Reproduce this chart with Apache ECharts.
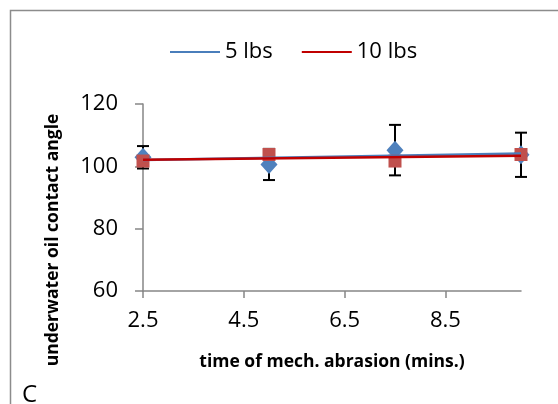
<!DOCTYPE html>
<html>
<head>
<meta charset="utf-8">
<script src="https://cdn.jsdelivr.net/npm/echarts@6/dist/echarts.min.js"></script>
<style>
html,body{margin:0;padding:0;background:#fff;}
#chart{width:558px;height:404px;}
</style>
</head>
<body>
<div id="chart"></div>
<script>
// abrasion time (mins.)
var times = [2.5, 5, 7.5, 10];
// contact angle, 5 lbs / 10 lbs
var angle5 = [102.9, 100.6, 105.2, 103.7];
var angle10 = [101.7, 103.8, 101.7, 103.8];
// error (+/-) on the 5 lbs points
var err5 = [3.6, 5.0, 8.1, 7.1];
var xTicks = [2.5, 4.5, 6.5, 8.5];

var fontName = 'Open Sans';

// linear trendline, like excel does
function trend(xs, ys){
	var n = xs.length, mx = 0, my = 0, sxy = 0, sxx = 0;
	for(var i=0;i<n;i++){ mx += xs[i]/n; my += ys[i]/n; }
	for(var i=0;i<n;i++){
		sxy += (xs[i]-mx)*(ys[i]-my);
		sxx += (xs[i]-mx)*(xs[i]-mx);
	}
	var k = sxy/sxx, b = my - k*mx;
	return [[xs[0], k*xs[0]+b], [xs[n-1], k*xs[n-1]+b]];
}

function pairs(xs, ys){
	var out = [];
	for(var i=0;i<xs.length;i++) out.push([xs[i], ys[i]]);
	return out;
}

var errData = [];
for(var i=0;i<times.length;i++){
	errData.push([times[i], angle5[i]-err5[i], angle5[i]+err5[i]]);
}

var eChart = echarts.init(document.getElementById('chart'));

var option = {
	animation: false,
	textStyle: {fontFamily: fontName},
	graphic: [
		{type:'rect', shape:{x:10.5, y:10.5, width:600, height:500},
			style:{fill:'none', stroke:'#8c8c8c', lineWidth:1.5}},
		{type:'text', left:22, top:383,
			style:{text:'C', font:'24px "Open Sans"', fill:'#000'}},
		// y title sits lower than the plot centre, as in the original
		{type:'text', x:53, y:240, rotation:Math.PI/2,
			style:{text:'underwater oil contact angle', font:'bold 17.5px "Open Sans"',
				fill:'#000', align:'center', verticalAlign:'middle'}}
	],
	legend: {
		left: 165,
		top: 36,
		icon: 'rect',
		itemWidth: 50,
		itemHeight: 2,
		itemGap: 29,
		data: ['5 lbs', '10 lbs'],
		textStyle: {fontSize: 22, color: '#000', fontFamily: fontName}
	},
	grid: {left:143, top:104, width:378, height:187},
	xAxis: {
		type: 'value',
		min: 2.5,
		max: 10,
		name: 'time of mech. abrasion (mins.)',
		nameLocation: 'middle',
		nameGap: 62,
		nameTextStyle: {fontSize: 17.5, fontWeight: 'bold', color: '#000'},
		axisLine: {lineStyle: {color: '#868686', width: 1.5}},
		axisTick: {show: true, length: 7, customValues: xTicks, lineStyle: {color: '#868686', width: 1.5}},
		axisLabel: {customValues: xTicks, fontSize: 22, color: '#000', margin: 19},
		splitLine: {show: false}
	},
	yAxis: {
		type: 'value',
		min: 60,
		max: 120,
		interval: 20,
		axisLine: {show: true, lineStyle: {color: '#868686', width: 1.5}},
		axisTick: {show: true, length: 8, lineStyle: {color: '#868686', width: 1.5}},
		axisLabel: {fontSize: 22, color: '#000', margin: 25},
		splitLine: {show: false}
	},
	series: [
		{
			type: 'custom',
			name: 'err',
			z: 1,
			data: errData,
			renderItem: function(params, api){
				var x = api.value(0);
				var lo = api.coord([x, api.value(1)]);
				var hi = api.coord([x, api.value(2)]);
				var w = 6;
				var st = {stroke:'#000', lineWidth:2};
				return {type:'group', children:[
					{type:'line', shape:{x1:lo[0], y1:lo[1], x2:hi[0], y2:hi[1]}, style:st},
					{type:'line', shape:{x1:lo[0]-w, y1:lo[1], x2:lo[0]+w, y2:lo[1]}, style:st},
					{type:'line', shape:{x1:hi[0]-w, y1:hi[1], x2:hi[0]+w, y2:hi[1]}, style:st}
				]};
			}
		},
		{
			type: 'scatter',
			name: '5 lbs pts',
			z: 2,
			symbol: 'diamond',
			symbolSize: [17, 19],
			itemStyle: {color: '#4f81bd', opacity: 1},
			data: pairs(times, angle5)
		},
		{
			type: 'scatter',
			name: '10 lbs pts',
			z: 3,
			symbol: 'rect',
			symbolSize: 13,
			itemStyle: {color: '#c0504d', opacity: 1},
			data: pairs(times, angle10)
		},
		{
			type: 'line',
			name: '5 lbs',
			z: 4,
			symbol: 'none',
			lineStyle: {color: '#4a7ebb', width: 2.5},
			itemStyle: {color: '#4a7ebb'},
			data: trend(times, angle5)
		},
		{
			type: 'line',
			name: '10 lbs',
			z: 5,
			symbol: 'none',
			lineStyle: {color: '#c00000', width: 2.5},
			itemStyle: {color: '#c00000'},
			data: trend(times, angle10)
		}
	]
};

eChart.setOption(option);
</script>
</body>
</html>
